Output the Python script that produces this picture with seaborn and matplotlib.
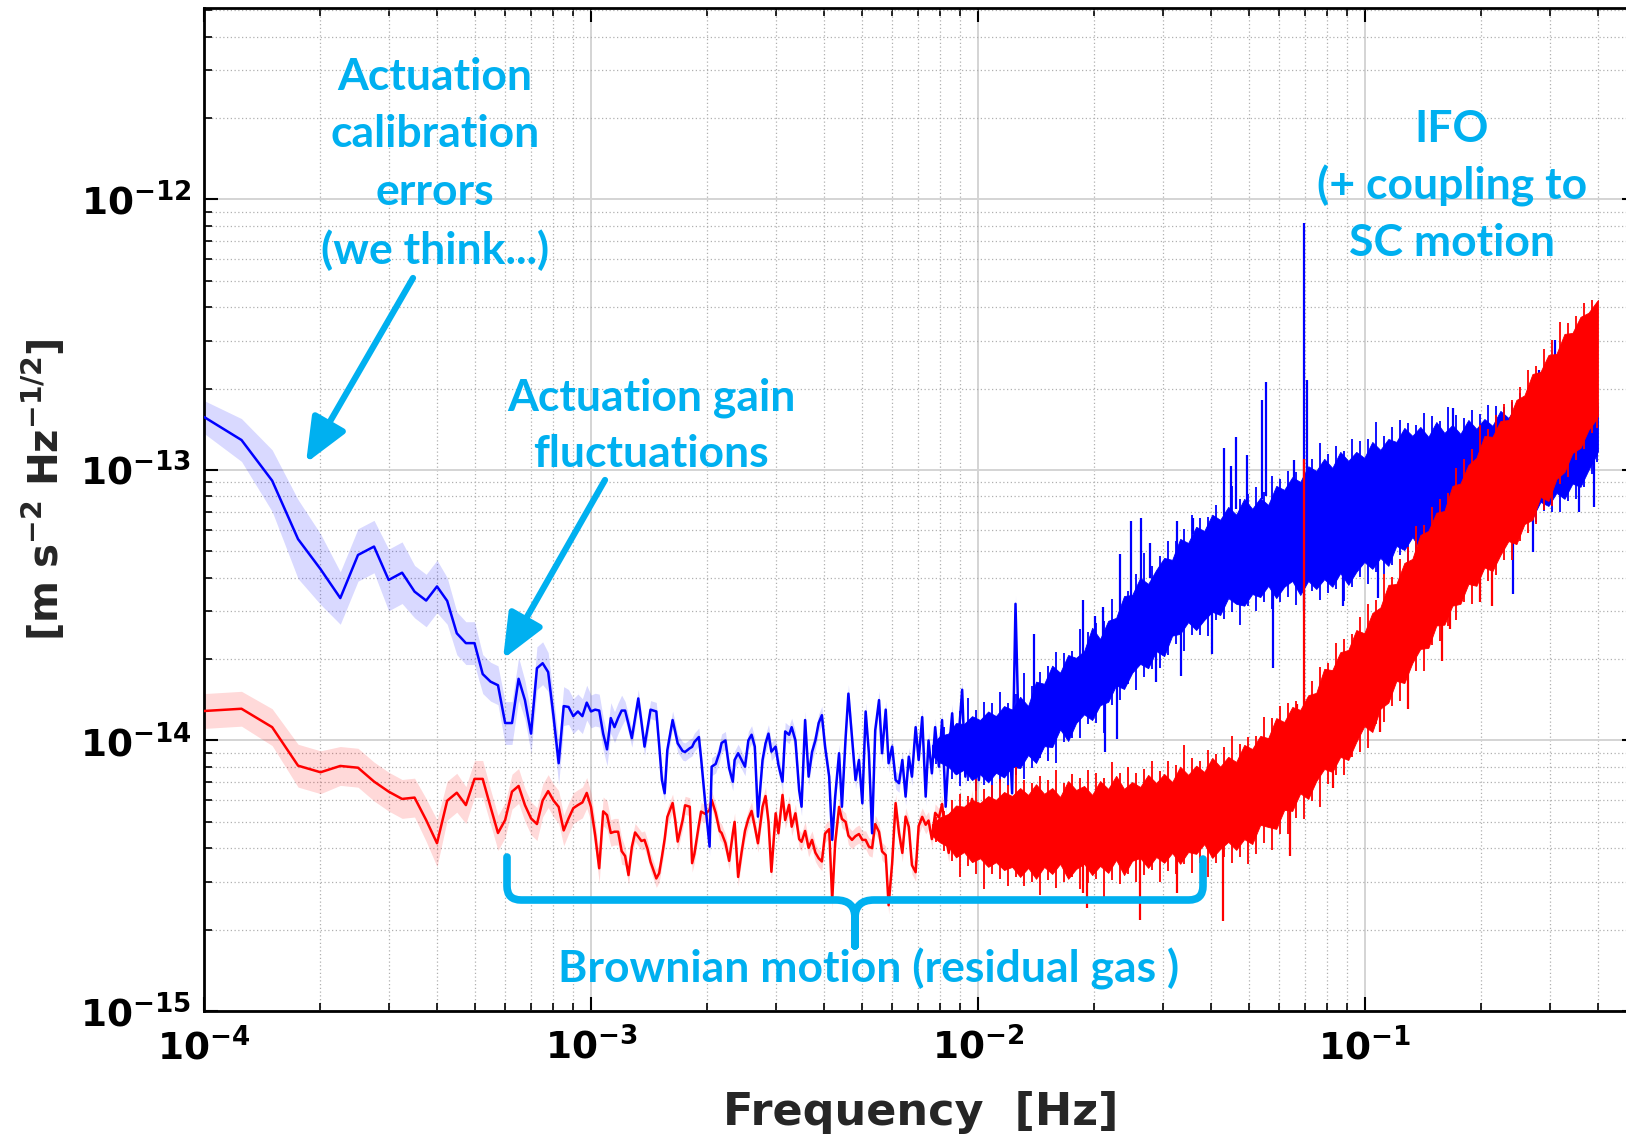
import numpy as np
import pandas as pd
import matplotlib
matplotlib.use("Agg")
import matplotlib.pyplot as plt
import seaborn as sns
from matplotlib.path import Path
from matplotlib.patches import PathPatch
from matplotlib.ticker import FuncFormatter, LogLocator, NullFormatter

# ---------------- data ----------------
DF = 2.5e-5      # frequency resolution of the spectra [Hz]
UNIT = 1e-15     # values below are in units of 1e-15 m s^-2 Hz^-1/2

# low-frequency bins (individually resolved points)
low_bins = [4, 5, 6, 7, 8, 9, 10, 11, 12, 13, 14, 15, 16, 17, 18, 19, 20, 21, 22, 23,
            24, 25, 26, 27, 28, 29, 30, 31, 32, 33, 34, 35, 36, 37, 38, 39, 40, 41, 42, 43,
            44, 45, 46, 47, 48]
blue_low = [157, 129, 91.3, 55.5, 43.0, 33.6, 48.5, 52.1, 39.2, 41.7, 35.5, 32.9, 37.1, 32.8, 24.9,
            22.9, 22.9, 17.6, 16.5, 16.0, 11.6, 11.6, 16.9, 14.1, 10.6, 18.5, 19.3, 17.9, 12.3, 8.24,
            13.4, 13.3, 12.3, 12.8, 12.3, 13.8, 12.8, 13.0, 12.9, 10.6, 9.27, 12.1, 11.2, 12.1, 12.9]
red_low = [12.85, 13.1, 11.2, 8.07, 7.63, 8.05, 7.93, 7.05, 6.47, 6.08, 6.15, 5.08, 4.17, 5.99, 6.41,
           5.77, 7.21, 7.21, 5.68, 4.55, 5.08, 6.47, 6.79, 5.77, 5.15, 4.91, 6.0, 6.5, 6.0, 5.68,
           4.65, 5.15, 5.62, 5.77, 5.9, 6.4, 5.68, 4.47, 3.37, 5.47, 5.3, 4.55, 4.6, 4.6, 3.9]
blue_low_err = [1.15, 1.2, 1.3, 1.4, 1.35, 1.25, 1.25, 1.25, 1.3, 1.3, 1.25, 1.25, 1.25, 1.22, 1.2,
                1.2, 1.2, 1.18, 1.18, 1.18, 1.2, 1.2, 1.2, 1.18, 1.18, 1.2, 1.2, 1.18, 1.18, 1.2,
                1.18, 1.16, 1.16, 1.16, 1.16, 1.16, 1.15, 1.15, 1.15, 1.15, 1.15, 1.14, 1.14, 1.14, 1.14]
red_low_err = [1.16, 1.16, 1.17, 1.2, 1.2, 1.18, 1.18, 1.18, 1.18, 1.18, 1.18, 1.2, 1.22, 1.18, 1.18,
               1.17, 1.17, 1.17, 1.16, 1.16, 1.16, 1.16, 1.16, 1.15, 1.15, 1.15, 1.15, 1.15, 1.15, 1.15,
               1.14, 1.14, 1.14, 1.14, 1.14, 1.14, 1.13, 1.13, 1.13, 1.13, 1.13, 1.12, 1.12, 1.12, 1.12]

# mid-frequency bins (sampled)
mid_bins = [49, 50, 51, 52, 53, 54, 55, 56, 57, 59, 60, 61, 62, 63, 65, 66, 67, 69, 70, 72,
            73, 74, 76, 77, 79, 81, 82, 84, 86, 87, 89, 91, 93, 94, 96, 98, 100, 102, 104, 106,
            108, 111, 113, 115, 117, 120, 122, 125, 127, 130, 132, 135, 138, 140, 143, 146, 149, 152, 155, 158,
            161, 165, 168, 171, 175, 178, 182, 185, 189, 193, 197, 201, 205, 209, 213, 217, 222, 226, 231, 235,
            240, 245, 250, 255, 260, 265, 270, 276, 281, 287, 293, 298, 304, 310, 317, 323, 330, 336, 343, 350,
            357, 364, 371, 379, 386, 394, 402, 410, 418, 427, 435, 444, 453, 462, 471, 480, 490, 500, 510]
blue_mid = [12.9, 11.5, 10.2, 12.1, 14.3, 11.7, 9.49, 11.1, 13.0, 12.8,
            9.62, 7.14, 6.38, 9.22, 11.9, 10.8, 9.76, 9.14, 9.07, 9.36,
            9.47, 9.87, 10.3, 8.6, 5.78, 4.05, 8.0, 8.19, 9.07, 9.79,
            10.0, 7.9, 7.04, 8.47, 8.97, 8.47, 8.0, 10.0, 10.5, 9.49,
            5.23, 8.47, 9.76, 10.6, 9.09, 9.49, 8.12, 7.04, 10.8, 10.5,
            11.2, 10.0, 6.56, 5.69, 11.9, 7.35, 9.07, 10.0, 11.6, 12.4,
            9.49, 7.35, 4.29, 6.20, 8.97, 5.69, 10.3, 14.9, 10.3, 7.14,
            8.47, 5.86, 12.8, 8.97, 4.54, 10.9, 14.1, 8.97, 13.0, 8.24,
            9.49, 7.14, 6.95, 8.47, 6.20, 8.71, 7.35, 11.2, 8.47, 12.2,
            6.20, 10.0, 7.56, 11.2, 8.0, 11.9, 5.69, 8.97, 12.6, 7.56,
            10.6, 15.4, 7.35, 9.49, 8.0, 10.9, 7.14, 10.3, 8.0, 11.6,
            8.0, 12.2, 8.97, 10.6, 8.71, 12.2, 6.38, 32.0, 10.0]
red_mid = [3.74, 3.18, 4.04, 4.57, 4.41, 4.25, 4.29, 3.97, 3.56, 3.09,
           3.23, 3.72, 4.32, 5.22, 5.87, 5.08, 4.23, 5.08, 5.76, 5.69,
           3.52, 3.81, 4.88, 5.46, 5.35, 5.54, 6.03, 5.40, 4.63, 4.55,
           4.18, 3.59, 4.54, 5.00, 3.13, 3.87, 4.64, 5.13, 5.49, 4.80,
           4.17, 5.69, 6.23, 5.00, 3.27, 5.38, 4.54, 6.29, 5.08, 5.78,
           4.80, 5.38, 4.32, 4.22, 4.63, 4.01, 4.29, 3.85, 3.67, 3.57,
           4.53, 4.70, 2.57, 4.18, 5.68, 5.13, 5.00, 4.45, 4.29, 4.43,
           4.51, 4.29, 4.29, 4.05, 4.00, 4.91, 4.59, 3.89, 3.77, 2.46,
           3.52, 5.87, 4.55, 3.84, 5.23, 4.80, 3.46, 3.26, 4.83, 5.22,
           4.88, 5.06, 4.32, 5.40, 5.19, 5.82, 4.43, 3.84, 4.88, 3.84,
           4.59, 4.22, 5.54, 5.08, 6.08, 4.59, 4.07, 5.05, 3.94, 3.71,
           5.17, 4.88, 4.29, 5.31, 4.88, 5.26, 4.43, 4.43, 4.29]
mid_band = 1.08   # typical half-width factor of the shaded uncertainty band above 1 mHz

# high-frequency bins: envelope (upper / lower edge) of the dense traces
high_bins = [304, 319, 335, 351, 368, 386, 405, 425, 445, 467, 490,
             514, 539, 565, 593, 622, 652, 684, 717, 752, 789, 827, 868, 910, 954, 1001, 1050, 1101,
             1155, 1211, 1270, 1332, 1397, 1465, 1537, 1612, 1690, 1773, 1859, 1950, 2045, 2145, 2249,
             2359, 2474, 2595, 2721, 2854, 2993, 3139, 3293, 3453, 3622, 3798, 3984, 4178, 4382, 4596,
             4820, 5055, 5302, 5560, 5832, 6116, 6415, 6728, 7056, 7400, 7761, 8140, 8537, 8953, 9390,
             9848, 10329, 10833, 11361, 11915, 12496, 13106, 13745, 14415, 15118, 15855, 16000]
blue_hi = [9.6, 10.4, 10.6, 11.6, 11.5, 12.3, 11.9, 12.8, 12.3, 13.4, 13.0,
           14.5, 13.4, 16.5, 16.2, 18.9, 17.8, 20.7, 20.2, 21.4, 26.1, 23.7, 27.7, 28.4, 34.2, 34.5,
           39.9, 37.9, 42.7, 47.3, 46.5, 55.6, 53.7, 61.6, 59.5, 68.3, 65.4, 73.0, 68.3, 78.2, 71.8,
           78.8, 74.2, 87.3, 84.4, 94.1, 90.3, 103.2, 99.2, 109.9, 101.7, 116.6, 108.0, 116.6, 110.8,
           126.9, 118.6, 130.2, 126.9, 143.0, 133.6, 144.2, 132.5, 150.4, 137.0, 146.7, 135.9, 153.0,
           141.8, 154.3, 145.5, 165.3, 155.6, 172.3, 166.7, 195.9, 190.4, 207.9, 199.3, 224.5, 211.2,
           228.4, 209.6, 190.4, 166.7]
blue_lo = [8.8, 8.3, 8.0, 7.5, 7.8, 7.14, 7.5, 7.0, 7.6, 7.3, 8.0,
           7.91, 8.84, 8.26, 9.53, 9.45, 11.0, 9.96, 11.6, 12.5, 11.9, 13.5, 13.9, 16.0, 15.5, 17.8,
           19.2, 18.5, 21.4, 20.5, 24.4, 24.8, 27.4, 25.6, 27.9, 29.9, 29.1, 33.6, 32.0, 31.5, 34.8,
           33.9, 37.3, 33.6, 37.0, 38.9, 34.5, 38.9, 36.3, 39.5, 37.0, 41.6, 37.6, 42.0, 45.7, 43.1,
           47.3, 44.2, 52.4, 50.6, 56.5, 51.0, 55.6, 58.5, 54.2, 59.5, 56.5, 55.6, 62.1, 60.0, 65.9,
           60.0, 66.5, 65.9, 73.6, 66.5, 76.2, 73.6, 82.3, 78.2, 89.1, 86.6, 100.0, 113.6, 117.6]
red_hi = [4.9, 5.2, 5.35, 5.75, 5.69, 6.03, 5.87, 6.23, 6.03, 6.45, 6.23,
          6.67, 6.29, 6.89, 6.35, 6.67, 6.18, 7.08, 6.56, 6.79, 6.29, 7.08, 6.62, 7.40, 6.62, 7.02,
          6.73, 7.46, 6.96, 7.52, 7.02, 8.00, 7.46, 8.07, 7.65, 8.62, 8.00, 8.70, 8.33, 9.63, 9.30,
          10.4, 10.2, 12.1, 11.7, 13.3, 12.97, 14.7, 15.0, 18.4, 18.2, 21.2, 21.6, 25.6, 24.9, 29.6,
          31.0, 37.6, 37.9, 45.3, 46.9, 57.5, 59.5, 69.5, 70.5, 87.3, 89.1, 104.3, 110.8, 133.6, 132.5,
          151.7, 153.0, 181.5, 188.7, 226.3, 230.3, 266.1, 268.5, 318.3, 321.0, 368.0, 381.0, 418.0, 425.2]
red_lo = [4.45, 4.2, 4.05, 3.7, 3.87, 3.55, 3.67, 3.41, 3.55, 3.32, 3.41,
          3.13, 3.38, 3.08, 3.41, 3.21, 3.50, 3.08, 3.35, 3.50, 3.18, 3.44, 3.24, 3.62, 3.18, 3.59,
          3.68, 3.38, 3.71, 3.53, 3.84, 3.50, 3.87, 3.81, 4.14, 3.68, 3.97, 4.22, 3.94, 4.32, 4.14,
          4.88, 4.79, 4.71, 5.54, 5.49, 6.38, 6.08, 7.08, 7.85, 7.65, 8.70, 8.47, 9.88, 11.3, 10.75,
          13.1, 13.8, 16.6, 16.3, 19.35, 21.8, 22.0, 26.6, 26.8, 31.5, 32.0, 37.9, 37.3, 43.6, 42.3,
          48.5, 54.6, 53.2, 63.1, 65.4, 79.5, 76.8, 92.6, 98.3, 115.6, 120.7, 140.6, 154.3, 158.6]

# individual needles of the dense traces between the envelope bins (full vertical extent)
needle_bins = [311, 327, 343, 359, 377, 395, 415, 435, 456, 478, 502, 526, 552, 579, 607, 637, 668,
               700, 734, 770, 808, 847, 889, 932, 977, 1025, 1075, 1128, 1183, 1240, 1301, 1364, 1431,
               1501, 1574, 1651, 1731, 1816, 1904, 1997, 2095, 2197, 2304, 2416, 2534, 2658, 2787, 2923,
               3066, 3216, 3373, 3537, 3710, 3891, 4080, 4279, 4488, 4707, 4937, 5178, 5430, 5695, 5973,
               6264, 6570, 6890, 7226, 7579, 7949, 8337, 8744, 9170, 9617, 10086, 10578, 11094, 11635,
               12202, 12798, 13422, 14077, 14764, 15484, 15927]
blue_needle_hi = [10.3, 11.2, 11.6, 12.86, 14.36, 12.97, 13.88, 13.76, 15.11, 13.76, 14.86, 17.7, 15.9,
                  17.9, 18.9, 21.3, 21.0, 21.4, 25.9, 25.2, 27.2, 27.7, 33.4, 34.6, 35.8, 41.1, 49.5, 44.2,
                  48.1, 54.4, 54.4, 60.5, 68.3, 66.2, 67.0, 73.9, 75.4, 87.0, 78.2, 81.7, 86.6, 83.0, 95.0,
                  92.2, 99.2, 98.3, 108.9, 109.9, 125.3, 114.6, 122.9, 117.6, 129.7, 128.0, 129.7, 150.4,
                  133.0, 144.2, 153.0, 149.1, 146.0, 162.0, 158.0, 152.3, 170.3, 159.4, 155.0, 166.0, 161.3,
                  174.0, 171.8, 170.3, 178.5, 192.0, 193.5, 218.9, 217.1, 228.4, 249.8, 235.3, 244.6, 246.7,
                  218.0, 196.8]
blue_needle_lo = [8.2, 7.7, 7.2, 6.79, 7.08, 6.50, 6.85, 6.03, 6.96, 6.79, 7.46, 7.23, 7.88, 8.58,
                  8.40, 8.29, 9.87, 10.22, 10.18, 11.51, 11.56, 10.7, 13.52, 14.12, 16.2, 15.4, 17.2, 18.45,
                  18.6, 20.7, 22.8, 21.4, 24.5, 24.5, 24.4, 28.0, 28.1, 29.8, 26.8, 31.3, 30.2, 32.5, 30.7,
                  32.6, 33.9, 31.6, 33.5, 35.6, 33.1, 35.1, 36.3, 32.8, 36.8, 40.1, 38.0, 41.8, 41.4, 44.6,
                  48.3, 44.8, 49.0, 48.5, 51.5, 49.0, 53.5, 48.1, 52.8, 55.1, 53.2, 58.8, 57.3, 55.3, 61.3,
                  60.5, 64.3, 64.3, 70.4, 69.8, 70.0, 76.8, 77.8, 86.2, 96.4, 107.0]
red_needle_hi = [5.2, 5.5, 6.0, 6.35, 6.23, 7.20, 6.62, 6.85, 7.20, 6.85, 8.00, 7.17, 6.96, 7.40,
                 7.14, 7.75, 6.99, 7.49, 7.27, 7.81, 7.55, 7.27, 8.36, 7.55, 7.96, 7.59, 7.85, 8.40, 7.72,
                 8.40, 8.14, 9.63, 8.62, 8.40, 9.22, 8.95, 9.47, 10.4, 9.71, 10.3, 10.4, 12.2, 12.1, 13.4,
                 13.8, 14.05, 17.0, 16.6, 18.7, 19.35, 23.0, 23.7, 24.7, 28.6, 31.9, 33.1, 41.4, 40.1, 46.9,
                 52.1, 62.1, 62.7, 73.0, 77.8, 82.2, 101.3, 109.9, 119.6, 146.7, 141.2, 159.4, 175.5, 181.5,
                 202.9, 234.3, 241.3, 280.0, 301.2, 352.3, 348.8, 370.9, 413.0, 425.0, 415.0]
red_needle_lo = [4.2, 3.9, 3.6, 3.13, 3.44, 3.21, 2.82, 3.21, 3.08, 2.90, 3.13, 2.89, 3.0, 2.68,
                 3.05, 2.86, 3.0, 3.12, 2.82, 2.97, 3.08, 2.57, 3.05, 2.95, 3.21, 2.99, 3.18, 3.33, 2.99,
                 3.29, 3.22, 3.50, 3.24, 3.53, 3.14, 3.53, 3.72, 3.51, 3.71, 3.50, 3.81, 4.18, 3.92, 4.51,
                 4.53, 5.17, 5.13, 5.98, 5.70, 6.93, 7.46, 7.46, 8.70, 9.06, 9.35, 11.5, 11.7, 13.4, 14.05,
                 16.9, 18.1, 18.0, 22.6, 23.4, 26.6, 27.9, 32.6, 31.9, 35.6, 39.0, 40.8, 46.4, 46.5, 54.8,
                 58.3, 63.1, 71.4, 73.6, 89.1, 94.2, 108.9, 119.6, 137.0, 142.4]

# isolated spikes / dips sticking far out of the dense traces (freq [Hz], from, to)
blue_spike_f = [1.395e-2, 1.869e-2, 2.006e-2, 2.104e-2, 2.328e-2, 2.486e-2, 2.636e-2, 2.783e-2, 3.269e-2,
                3.594e-2, 4.322e-2, 4.507e-2, 4.643e-2, 4.956e-2, 5.420e-2, 5.551e-2, 6.555e-2, 6.97e-2,
                7.088e-2, 0.1689, 0.2816, 0.3098, 0.366]
blue_spike_base = [15, 18, 20, 21, 28, 33, 37, 40, 50, 58, 68, 70, 72, 75, 78, 80, 85, 30, 90, 130, 190, 200, 210]
blue_spike_tip = [24.7, 33.1, 28.9, 31.2, 48.9, 64.8, 66.5, 53.7, 64.8, 66.5, 120.7, 103.4, 132.5, 113.6,
                  181.5, 211.5, 108.9, 819.0, 215.2, 169.7, 234.3, 302.5, 206.0]
blue_dip_f = [2.129e-2, 2.287e-2, 2.884e-2, 3.347e-2, 4.025e-2, 5.787e-2, 8.774e-2, 0.1081, 0.2413,
              0.2717, 0.3574, 0.3908]
blue_dip_base = [20, 25, 40, 50, 60, 75, 90, 100, 120, 150, 160, 170]
blue_dip_tip = [9.06, 10.13, 16.5, 17.3, 20.9, 18.5, 31.5, 33.6, 34.8, 49.8, 70.0, 72.9]
red_spike_f = [3.930e-2, 6.674e-2, 6.97e-2]
red_spike_base = [6, 8, 8]
red_spike_tip = [8.07, 13.6, 110.0]
red_dip_f = [1.869e-2, 1.914e-2, 2.622e-2, 3.269e-2, 4.297e-2, 6.40e-2, 8.268e-2, 0.1094, 0.1292,
             0.1582, 0.1659, 0.1982, 0.2129]
red_dip_base = [4, 4, 4, 4.2, 4.5, 6, 10, 18, 22, 35, 40, 55, 60]
red_dip_tip = [2.74, 2.4, 2.17, 2.74, 2.15, 3.75, 6.7, 10.75, 13.1, 19.7, 25.8, 32.5, 31.5]

x_ticks = [1e-4, 1e-3, 1e-2, 1e-1]
y_ticks = [1e-15, 1e-14, 1e-13, 1e-12]

# ---------------- styling ----------------
BLUE = "#0000ff"
RED = "#ff0000"
CYAN = "#00b0f0"
W, H = 1626, 1137

sns.set_theme(style="white")
plt.rcParams["font.family"] = ["DejaVu Sans"]
plt.rcParams["mathtext.fontset"] = "dejavusans"

fig = plt.figure(figsize=(W / 100, H / 100), dpi=100)
ax = fig.add_axes([204 / W, (H - 1011) / H, 1431.5 / W, 1003 / H])
ax.set_xscale("log")
ax.set_yscale("log")

low = pd.DataFrame({"f": np.array(low_bins) * DF, "blue": np.array(blue_low) * UNIT,
                    "red": np.array(red_low) * UNIT, "eb": blue_low_err, "er": red_low_err})
mid = pd.DataFrame({"f": np.array(mid_bins) * DF, "blue": np.array(blue_mid) * UNIT,
                    "red": np.array(red_mid) * UNIT, "eb": mid_band, "er": mid_band})
lm = pd.concat([low, mid], ignore_index=True)
high = pd.DataFrame({"f": np.array(high_bins) * DF,
                     "blo": np.array(blue_lo) * UNIT, "bhi": np.array(blue_hi) * UNIT,
                     "rlo": np.array(red_lo) * UNIT, "rhi": np.array(red_hi) * UNIT})
needles = pd.DataFrame({"f": np.array(needle_bins) * DF,
                        "blo": np.array(blue_needle_lo) * UNIT, "bhi": np.array(blue_needle_hi) * UNIT,
                        "rlo": np.array(red_needle_lo) * UNIT, "rhi": np.array(red_needle_hi) * UNIT})

# uncertainty bands
ax.fill_between(lm["f"], lm["blue"] / lm["eb"], lm["blue"] * lm["eb"], color=BLUE, alpha=0.15, lw=0, zorder=1)
ax.fill_between(lm["f"], lm["red"] / lm["er"], lm["red"] * lm["er"], color=RED, alpha=0.15, lw=0, zorder=1)

# dense blue trace
ax.fill_between(high["f"], high["blo"], high["bhi"], facecolor=BLUE, edgecolor=BLUE, lw=0.6, zorder=2)
ax.vlines(needles["f"], needles["blo"], needles["bhi"], color=BLUE, lw=1.3, zorder=2)
ax.vlines(blue_spike_f, np.array(blue_spike_base) * UNIT, np.array(blue_spike_tip) * UNIT, color=BLUE, lw=1.6, zorder=2)
ax.vlines(blue_dip_f, np.array(blue_dip_base) * UNIT, np.array(blue_dip_tip) * UNIT, color=BLUE, lw=1.6, zorder=2)

# resolved lines
sns.lineplot(data=lm, x="f", y="red", ax=ax, color=RED, lw=1.8, estimator=None, sort=False, zorder=3)
sns.lineplot(data=lm, x="f", y="blue", ax=ax, color=BLUE, lw=1.8, estimator=None, sort=False, zorder=4)

# dense red trace (on top)
ax.fill_between(high["f"], high["rlo"], high["rhi"], facecolor=RED, edgecolor=RED, lw=0.6, zorder=5)
ax.vlines(needles["f"], needles["rlo"], needles["rhi"], color=RED, lw=1.3, zorder=5)
ax.vlines(red_spike_f, np.array(red_spike_base) * UNIT, np.array(red_spike_tip) * UNIT, color=RED, lw=1.6, zorder=5)
ax.vlines(red_dip_f, np.array(red_dip_base) * UNIT, np.array(red_dip_tip) * UNIT, color=RED, lw=1.6, zorder=5)

ax.set_xlim(1e-4, 0.5)
ax.set_ylim(1e-15, 5.1e-12)

# grid
ax.set_axisbelow(True)
ax.grid(which="major", color="#d4d4d4", lw=1.4, ls="-", zorder=0)
ax.grid(which="minor", color="#b0b0b0", lw=0.9, ls=(0, (1, 2)), zorder=0)

# ticks
fmt = FuncFormatter(lambda v, p: r"$\mathbf{10^{%d}}$" % int(round(np.log10(v))))
ax.xaxis.set_minor_locator(LogLocator(base=10, subs=np.arange(2, 10)))
ax.yaxis.set_minor_locator(LogLocator(base=10, subs=np.arange(2, 10)))
ax.set_xticks(x_ticks)
ax.set_yticks(y_ticks)
ax.xaxis.set_major_formatter(fmt)
ax.yaxis.set_major_formatter(fmt)
ax.xaxis.set_minor_formatter(NullFormatter())
ax.yaxis.set_minor_formatter(NullFormatter())
ax.tick_params(which="both", direction="in", top=True, right=True, bottom=True, left=True, colors="black")
ax.tick_params(which="major", length=10, width=1.5)
ax.tick_params(which="minor", length=6, width=1.2)
ax.tick_params(axis="x", which="major", labelsize=27, pad=12)
ax.tick_params(axis="y", which="major", labelsize=27, pad=9)
for s in ax.spines.values():
    s.set_linewidth(2.0)
    s.set_color("black")

ax.set_xlabel("Frequency  [Hz]", fontsize=32, fontweight="bold")
ax.xaxis.set_label_coords((921 - 204) / 1431.5, (1011 - 1112) / 1003)
ax.xaxis.label.set_va("center")
ax.set_ylabel(r"$\mathbf{[m\ s^{-2}\ Hz^{-1/2}]}$", fontsize=29)
ax.yaxis.set_label_coords((44 - 204) / 1431.5, (1011 - 490) / 1003)
ax.yaxis.label.set_va("center")

# ---------------- annotations (overlay in picture pixels) ----------------
ov = fig.add_axes([0, 0, 1, 1], zorder=10)
ov.set_xlim(0, W)
ov.set_ylim(H, 0)
ov.axis("off")
ov.patch.set_alpha(0)

tkw = dict(color=CYAN, fontsize=32, fontweight="bold", family=["Lato", "DejaVu Sans"], ha="center", va="center")
for txt, y in [("Actuation", 77), ("calibration", 134), ("errors", 192), ("(we think...)", 250)]:
    ov.text(435, y, txt, **tkw)
for txt, y in [("Actuation gain", 398), ("fluctuations", 454)]:
    ov.text(651, y, txt, **tkw)
for txt, y in [("IFO", 129), ("(+ coupling to", 186), ("SC motion", 243)]:
    ov.text(1452, y, txt, **tkw)
ov.text(869, 969, "Brownian motion (residual gas )", **tkw)

akw = dict(arrowstyle="-|>,head_length=0.85,head_width=0.36", color=CYAN, lw=4.5, mutation_scale=32,
           shrinkA=0, shrinkB=0)
ov.annotate("", xy=(306, 463), xytext=(413, 278), arrowprops=akw)
ov.annotate("", xy=(503, 659), xytext=(605, 480), arrowprops=akw)

verts = [(507, 857), (507, 886), (507, 900), (521, 900), (836, 900), (855, 900), (855, 918), (855, 946),
         (855, 918), (855, 900), (874, 900), (1189, 900), (1203, 900), (1203, 886), (1203, 859)]
codes = [Path.MOVETO, Path.LINETO, Path.CURVE3, Path.CURVE3, Path.LINETO, Path.CURVE3, Path.CURVE3,
         Path.LINETO, Path.LINETO, Path.CURVE3, Path.CURVE3, Path.LINETO, Path.CURVE3, Path.CURVE3, Path.LINETO]
ov.add_patch(PathPatch(Path(verts, codes), fill=False, edgecolor=CYAN, lw=5.5,
                       capstyle="round", joinstyle="round"))

fig.savefig("out.png", dpi=100)
